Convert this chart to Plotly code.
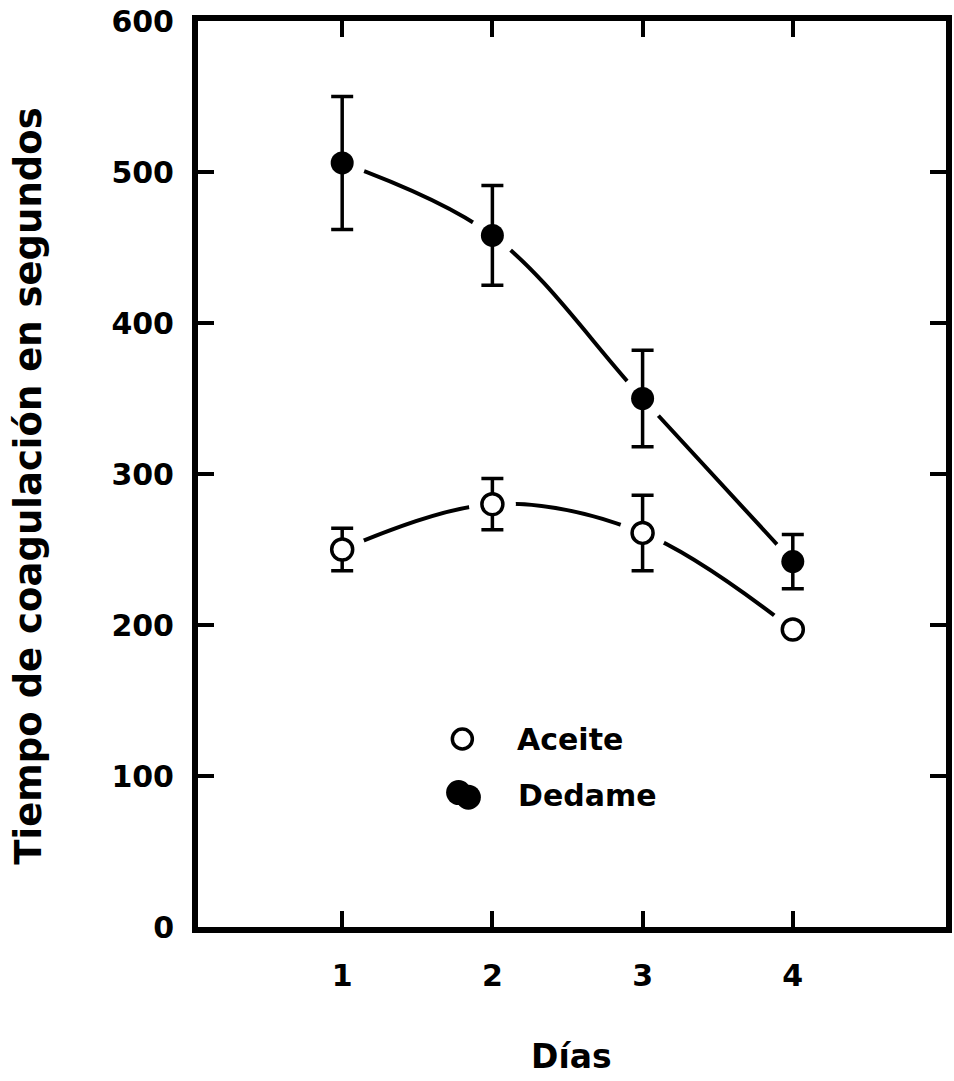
import plotly.graph_objects as go

# Coagulation time (s) by day, mean and error for each treatment
dias = [1, 2, 3, 4]
aceite = [250, 280, 261, 197]
aceite_err = [14, 17, 25, 0]
dedame = [506, 458, 350, 242]
dedame_err = [44, 33, 32, 18]

y_ticks = [0, 100, 200, 300, 400, 500, 600]
x_ticks = [1, 2, 3, 4]

BOLD = dict(family="DejaVu Sans", color="black", weight="bold")

fig = go.Figure()

# smooth connecting curves
for ys in (dedame, aceite):
    fig.add_trace(go.Scatter(
        x=dias, y=ys, mode="lines",
        line=dict(color="black", width=4, shape="spline", smoothing=1.0),
        hoverinfo="skip", showlegend=False))

# white halos so the curves stop short of each marker
for ys in (dedame, aceite):
    fig.add_trace(go.Scatter(
        x=dias, y=ys, mode="markers",
        marker=dict(size=47, color="white", line=dict(width=0)),
        hoverinfo="skip", showlegend=False))

# points with error bars
fig.add_trace(go.Scatter(
    x=dias, y=dedame, mode="markers", name="Dedame",
    marker=dict(size=23, color="black", line=dict(width=0)),
    error_y=dict(type="data", array=dedame_err, visible=True,
                 color="black", thickness=3.5, width=11),
    showlegend=False))
fig.add_trace(go.Scatter(
    x=dias, y=aceite, mode="markers", name="Aceite",
    marker=dict(size=21, color="white", line=dict(width=3.5, color="black")),
    error_y=dict(type="data", array=aceite_err, visible=True,
                 color="black", thickness=3.5, width=11),
    showlegend=False))

# in-plot key
fig.add_trace(go.Scatter(
    x=[1.8], y=[124.5], mode="markers",
    marker=dict(size=20, color="white", line=dict(width=3.5, color="black")),
    hoverinfo="skip", showlegend=False))
fig.add_trace(go.Scatter(
    x=[1.775, 1.84], y=[89, 86], mode="markers",
    marker=dict(size=25, color="black", line=dict(width=0)),
    hoverinfo="skip", showlegend=False))
fig.add_annotation(x=2.15, y=124, xref="x", yref="y", text="Aceite",
                   showarrow=False, xanchor="left", yanchor="middle",
                   font=dict(size=30, **BOLD))
fig.add_annotation(x=2.16, y=87, xref="x", yref="y", text="Dedame",
                   showarrow=False, xanchor="left", yanchor="middle",
                   font=dict(size=30, **BOLD))

# axis titles
fig.add_annotation(x=-0.226, y=0.487, xref="paper", yref="paper",
                   text="Tiempo de coagulación en segundos", textangle=-90,
                   showarrow=False, xanchor="center", yanchor="middle",
                   font=dict(size=37, **BOLD))
fig.add_annotation(x=0.4993, y=-0.1425, xref="paper", yref="paper",
                   text="Días", showarrow=False,
                   xanchor="center", yanchor="middle",
                   font=dict(size=33, **BOLD))

axis_common = dict(
    showline=True, linecolor="black", linewidth=6, mirror="ticks",
    ticks="inside", ticklen=16, tickwidth=3.5, tickcolor="black",
    showgrid=False, zeroline=False,
    tickfont=dict(size=30, **BOLD))

fig.update_xaxes(range=[0.04, 5.02], tickvals=x_ticks,
                 ticktext=[str(v) for v in x_ticks],
                 ticklabelstandoff=17, **axis_common)
fig.update_yaxes(range=[0, 600], tickvals=y_ticks,
                 ticktext=[str(v) for v in y_ticks],
                 ticklabelstandoff=12, **axis_common)

fig.update_layout(
    width=954, height=1081,
    margin=dict(l=198, r=2, t=21, b=154),
    paper_bgcolor="white", plot_bgcolor="white",
    showlegend=False)

fig.write_html("out.html")
